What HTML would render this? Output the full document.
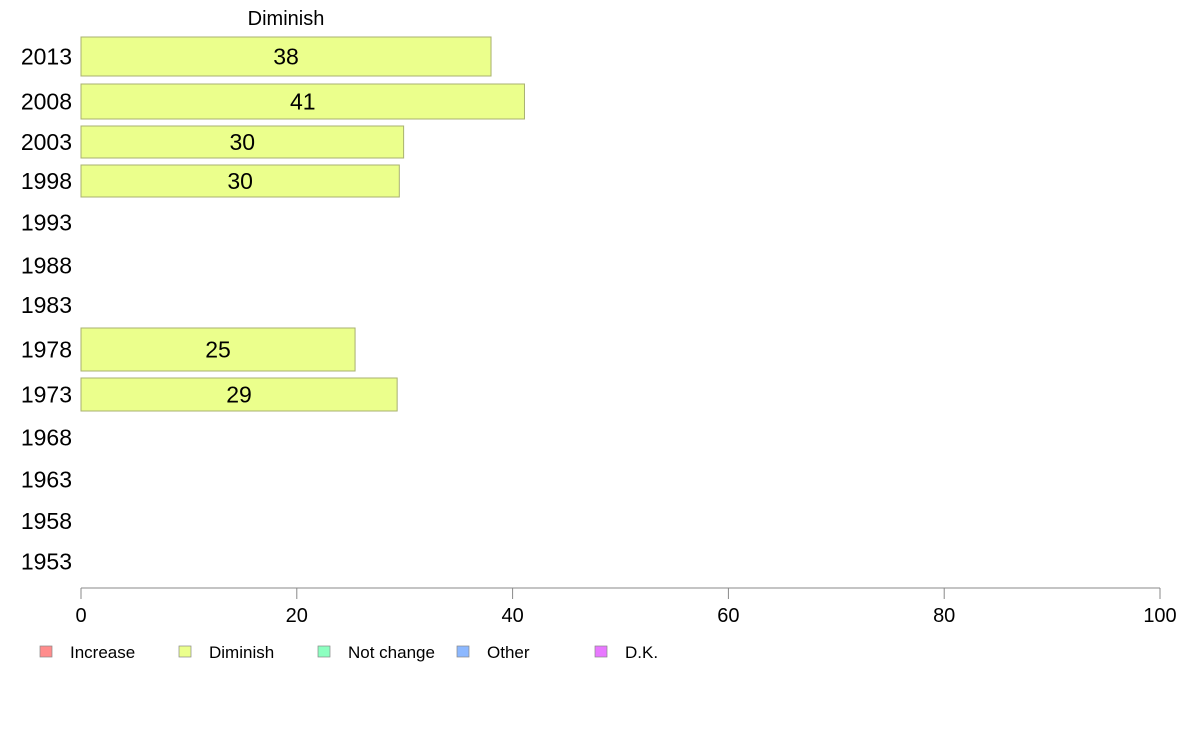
<!DOCTYPE html>
<html><head><meta charset="utf-8">
<style>
body{margin:0;background:#fff;width:1188px;height:736px;overflow:hidden;font-family:"Liberation Sans",sans-serif;}
svg text{font-family:"Liberation Sans",sans-serif;}
</style></head>
<body>
<svg id="chart" width="1188" height="736" xmlns="http://www.w3.org/2000/svg">
<text x="286" y="25" font-size="20" text-anchor="middle" fill="#000">Diminish</text>
</svg>
<script>
const years = ["2013","2008","2003","1998","1993","1988","1983","1978","1973","1968","1963","1958","1953"];
const values = [38, 41.1, 29.9, 29.5, null, null, null, 25.4, 29.3, null, null, null, null];
const tickLabels = [0, 20, 40, 60, 80, 100];
const legendLabels = ["Increase","Diminish","Not change","Other","D.K."];
const legendColors = ["#ff8c8c","#ebff8c","#8cffc0","#8cb8ff","#e878ff"];
// layout (row bands in pixels: top, bottom)
const bands = [[37,76],[84,119],[126,158],[165,197],[205,240],[248,283],[290,320],[328,371],[378,411],[420,455],[462,497],[504,538],[545,578]];
const svg = document.getElementById('chart');
const NS = "http://www.w3.org/2000/svg";
const x0 = 81, x1 = 1160;
function xs(v){ return x0 + (x1 - x0) * v / 100; }
function mk(tag, attrs){ const e = document.createElementNS(NS, tag); for (const k in attrs) e.setAttribute(k, attrs[k]); svg.appendChild(e); return e; }

years.forEach((y, i) => {
  const b = bands[i], cy = (b[0] + b[1]) / 2;
  const t = mk('text', {x: 72, y: cy + 8, 'font-size': 23, 'text-anchor': 'end', fill: '#000'});
  
  
  t.textContent = y;
  const v = values[i];
  if (v != null) {
    const r = mk('rect', {x: xs(0), y: b[0], width: xs(v) - xs(0), height: b[1] - b[0], fill: '#ebff8c', stroke: '#a8b070', 'stroke-width': 1});
    
    
    const l = mk('text', {x: (xs(0) + xs(v)) / 2, y: cy + 8, 'font-size': 23, 'text-anchor': 'middle', fill: '#000'});
    
    
    l.textContent = Math.round(v);
  }
});

const ax = mk('line', {x1: x0, x2: x1, y1: 588, y2: 588, stroke: '#888', 'stroke-width': 1});


tickLabels.forEach(v => {
  const tk = mk('line', {x1: xs(v), x2: xs(v), y1: 588, y2: 599, stroke: '#888', 'stroke-width': 1});
  
  
  const tl = mk('text', {x: xs(v), y: 622, 'font-size': 20, 'text-anchor': 'middle', fill: '#000'});
  
  
  tl.textContent = v;
});

const legX = [40, 179, 318, 457, 595];
legendLabels.forEach((lab, i) => {
  const s = mk('rect', {x: legX[i], y: 646, width: 12, height: 11, fill: legendColors[i], stroke: '#888', 'stroke-width': 0.7});
  
  
  const t = mk('text', {x: legX[i] + 30, y: 658, 'font-size': 17, fill: '#000'});
  
  
  t.textContent = lab;
});
</script>
</body></html>
